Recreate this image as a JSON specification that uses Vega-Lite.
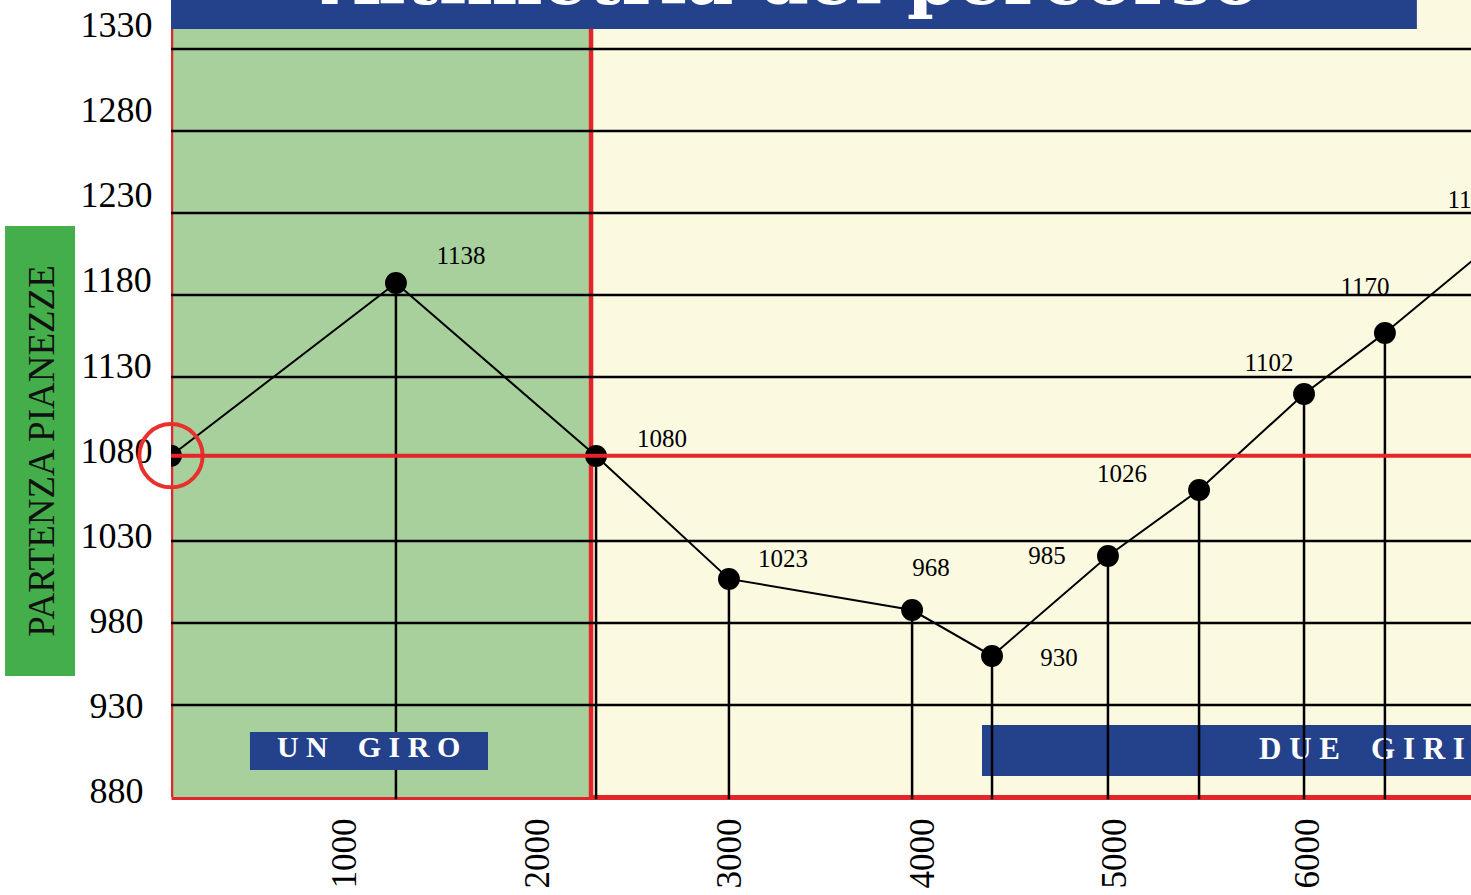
{
  "$schema": "https://vega.github.io/schema/vega-lite/v6.json",
  "autosize": {"type": "none"},
  "width": 1300,
  "height": 797,
  "padding": {"left": 171, "top": 0, "right": 0, "bottom": 98},
  "background": "white",
  "view": {"fill": "#FCF9E1", "stroke": null},
  "datasets": {
    "profilo": [
      {"m": 99, "quota": 1082},
      {"m": 1267, "quota": 1187.3},
      {"m": 2306, "quota": 1081.9},
      {"m": 2996, "quota": 1006.9},
      {"m": 3947, "quota": 987.9},
      {"m": 4362, "quota": 959.9},
      {"m": 4964, "quota": 1020.9},
      {"m": 5437, "quota": 1061.1},
      {"m": 5982, "quota": 1119.7},
      {"m": 6402, "quota": 1156.9},
      {"m": 6948, "quota": 1209.9}
    ],
    "etichette": [
      {"m": 1605, "quota": 1203.8, "testo": "1138"},
      {"m": 2648, "quota": 1092.2, "testo": "1080"},
      {"m": 3277, "quota": 1019.0, "testo": "1023"},
      {"m": 4045, "quota": 1013.6, "testo": "968"},
      {"m": 4710, "quota": 958.7, "testo": "930"},
      {"m": 4647, "quota": 1020.9, "testo": "985"},
      {"m": 5037, "quota": 1070.9, "testo": "1026"},
      {"m": 5800, "quota": 1138.6, "testo": "1102"},
      {"m": 6299, "quota": 1184.9, "testo": "1170"},
      {"m": 6854, "quota": 1237.9, "testo": "1138"}
    ],
    "griglia": [
      {"q": 930}, {"q": 980}, {"q": 1030}, {"q": 1130},
      {"q": 1180}, {"q": 1230}, {"q": 1280}, {"q": 1330}
    ],
    "assey": [
      {"q": 880}, {"q": 930}, {"q": 980}, {"q": 1030}, {"q": 1080},
      {"q": 1130}, {"q": 1180}, {"q": 1230}, {"q": 1280}, {"q": 1330}
    ]
  },
  "resolve": {"scale": {"y": "independent"}},
  "layer": [
    {
      "data": {"values": [{}]},
      "mark": {"type": "rect", "color": "#A8D09C", "clip": true},
      "encoding": {
        "x": {"datum": 99, "type": "quantitative", "scale": {"domain": [99, 6849], "nice": false, "zero": false}, "title": null,
          "axis": {"values": [1000, 2000, 3000, 4000, 5000, 6000], "format": "d", "labelAngle": -90, "labelFont": "Liberation Serif", "labelFontSize": 35, "labelColor": "black", "labelPadding": 21, "ticks": false, "tickSize": 0, "grid": false, "domain": true, "domainColor": "#E4262A", "domainWidth": 5, "title": null, "labelFlush": false, "labelOverlap": false}},
        "x2": {"datum": 2280},
        "y": {"datum": 873.9, "type": "quantitative", "scale": {"domain": [873.9, 1359.9], "nice": false, "zero": false}, "axis": null},
        "y2": {"datum": 1359.9}
      }
    },
    {
      "data": {"values": [{"m": 99}, {"m": 2280}]},
      "mark": {"type": "rule", "color": "#E4262A", "strokeWidth": 4.5, "clip": true},
      "encoding": {
        "x": {"field": "m", "type": "quantitative", "title": null}
      }
    },
    {
      "data": {"name": "griglia"},
      "mark": {"type": "rule", "color": "black", "strokeWidth": 2.5},
      "encoding": {
        "y": {"field": "q", "type": "quantitative", "scale": {"domain": [873.9, 1359.9], "nice": false, "zero": false}, "axis": null}
      }
    },
    {
      "data": {"values": [{}]},
      "mark": {"type": "rect", "color": "#24418C", "clip": true},
      "encoding": {
        "x": {"datum": 4310, "type": "quantitative", "title": null},
        "x2": {"datum": 7000},
        "y": {"datum": 886.7, "type": "quantitative", "scale": {"domain": [873.9, 1359.9], "nice": false, "zero": false}, "axis": null},
        "y2": {"datum": 917.8}
      }
    },
    {
      "data": {"values": [{"t": "D\u2005U\u2005E\u2003G\u2005I\u2005R\u2005I"}]},
      "mark": {"type": "text", "color": "white", "font": "Liberation Serif", "fontWeight": "bold", "fontSize": 31, "align": "center", "baseline": "middle", "clip": true},
      "encoding": {
        "x": {"datum": 6283, "type": "quantitative", "title": null},
        "y": {"datum": 902.6, "type": "quantitative", "scale": {"domain": [873.9, 1359.9], "nice": false, "zero": false}, "axis": null},
        "text": {"field": "t"}
      }
    },
    {
      "data": {"name": "profilo"},
      "transform": [{"filter": "datum.m > 200 && datum.m < 6849"}],
      "mark": {"type": "rule", "color": "black", "strokeWidth": 2.5},
      "encoding": {
        "x": {"field": "m", "type": "quantitative", "title": null},
        "y": {"field": "quota", "type": "quantitative", "scale": {"domain": [873.9, 1359.9], "nice": false, "zero": false}, "axis": null},
        "y2": {"datum": 872.5}
      }
    },
    {
      "data": {"values": [{}]},
      "mark": {"type": "rect", "color": "#24418C"},
      "encoding": {
        "x": {"datum": 509, "type": "quantitative", "title": null},
        "x2": {"datum": 1745},
        "y": {"datum": 890.4, "type": "quantitative", "scale": {"domain": [873.9, 1359.9], "nice": false, "zero": false}, "axis": null},
        "y2": {"datum": 913.6}
      }
    },
    {
      "data": {"values": [{"t": "U\u2005N\u2003G\u2005I\u2005R\u2005O"}]},
      "mark": {"type": "text", "color": "white", "font": "Liberation Serif", "fontWeight": "bold", "fontSize": 30, "align": "center", "baseline": "middle"},
      "encoding": {
        "x": {"datum": 1125, "type": "quantitative", "title": null},
        "y": {"datum": 903.8, "type": "quantitative", "scale": {"domain": [873.9, 1359.9], "nice": false, "zero": false}, "axis": null},
        "text": {"field": "t"}
      }
    },
    {
      "data": {"name": "profilo"},
      "mark": {"type": "line", "color": "black", "strokeWidth": 2, "clip": true},
      "encoding": {
        "x": {"field": "m", "type": "quantitative", "title": null},
        "y": {"field": "quota", "type": "quantitative", "scale": {"domain": [873.9, 1359.9], "nice": false, "zero": false}, "axis": null}
      }
    },
    {
      "data": {"name": "profilo"},
      "transform": [{"filter": "datum.m < 200"}],
      "mark": {"type": "point", "shape": "circle", "filled": false, "stroke": "#E8312D", "strokeWidth": 4, "size": 4000, "opacity": 1},
      "encoding": {
        "x": {"field": "m", "type": "quantitative", "title": null},
        "y": {"field": "quota", "type": "quantitative", "scale": {"domain": [873.9, 1359.9], "nice": false, "zero": false}, "axis": null}
      }
    },
    {
      "data": {"name": "profilo"},
      "mark": {"type": "point", "shape": "circle", "filled": true, "color": "black", "size": 480, "opacity": 1, "clip": true},
      "encoding": {
        "x": {"field": "m", "type": "quantitative", "title": null},
        "y": {"field": "quota", "type": "quantitative", "scale": {"domain": [873.9, 1359.9], "nice": false, "zero": false}, "axis": null}
      }
    },
    {
      "data": {"values": [{}]},
      "mark": {"type": "rule", "color": "#E4262A", "strokeWidth": 4},
      "encoding": {
        "y": {"datum": 1082, "type": "quantitative", "scale": {"domain": [873.9, 1359.9], "nice": false, "zero": false}, "axis": null}
      }
    },
    {
      "data": {"name": "etichette"},
      "mark": {"type": "text", "color": "black", "font": "Liberation Serif", "fontSize": 25, "align": "center", "baseline": "middle", "clip": true},
      "encoding": {
        "x": {"field": "m", "type": "quantitative", "title": null},
        "y": {"field": "quota", "type": "quantitative", "scale": {"domain": [873.9, 1359.9], "nice": false, "zero": false}, "axis": null},
        "text": {"field": "testo"}
      }
    },
    {
      "data": {"values": [{}]},
      "mark": {"type": "rect", "color": "#24418C", "clip": true},
      "encoding": {
        "x": {"datum": 99, "type": "quantitative", "title": null},
        "x2": {"datum": 6568},
        "y": {"datum": 1342.2, "type": "quantitative", "scale": {"domain": [873.9, 1359.9], "nice": false, "zero": false}, "axis": null},
        "y2": {"datum": 1375}
      }
    },
    {
      "data": {"values": [{"t": "Altimetria del percorso"}]},
      "mark": {"type": "text", "color": "white", "font": "DejaVu Serif", "fontWeight": "bold", "fontSize": 72, "align": "center", "baseline": "alphabetic", "clip": true},
      "encoding": {
        "x": {"datum": 3318, "type": "quantitative", "title": null},
        "y": {"datum": 1357.5, "type": "quantitative", "scale": {"domain": [873.9, 1359.9], "nice": false, "zero": false}, "axis": null},
        "text": {"field": "t"}
      }
    },
    {
      "data": {"values": [{}]},
      "mark": {"type": "rect", "color": "#43AE4A"},
      "encoding": {
        "x": {"datum": -762.7, "type": "quantitative", "title": null},
        "x2": {"datum": -399.3},
        "y": {"datum": 947.7, "type": "quantitative", "scale": {"domain": [873.9, 1359.9], "nice": false, "zero": false}, "axis": null},
        "y2": {"datum": 1222.1}
      }
    },
    {
      "data": {"values": [{"t": "PARTENZA PIANEZZE"}]},
      "mark": {"type": "text", "color": "#111111", "font": "Liberation Serif", "fontSize": 37, "align": "center", "baseline": "middle", "angle": 270},
      "encoding": {
        "x": {"datum": -565, "type": "quantitative", "title": null},
        "y": {"datum": 1084.9, "type": "quantitative", "scale": {"domain": [873.9, 1359.9], "nice": false, "zero": false}, "axis": null},
        "text": {"field": "t"}
      }
    },
    {
      "data": {"name": "assey"},
      "mark": {"type": "point", "opacity": 0},
      "encoding": {
        "y": {"field": "q", "type": "quantitative", "scale": {"domain": [877.0, 1345.0], "nice": false, "zero": false},
          "axis": {"orient": "left", "values": [880, 930, 980, 1030, 1080, 1130, 1180, 1230, 1280, 1330], "format": "d", "ticks": false, "tickSize": 0, "domain": false, "grid": false, "labelAlign": "center", "labelBaseline": "middle", "labelPadding": 55, "labelFont": "Liberation Serif", "labelFontSize": 36, "labelColor": "black", "title": null, "labelFlush": false, "labelOverlap": false}}
      }
    }
  ]
}
